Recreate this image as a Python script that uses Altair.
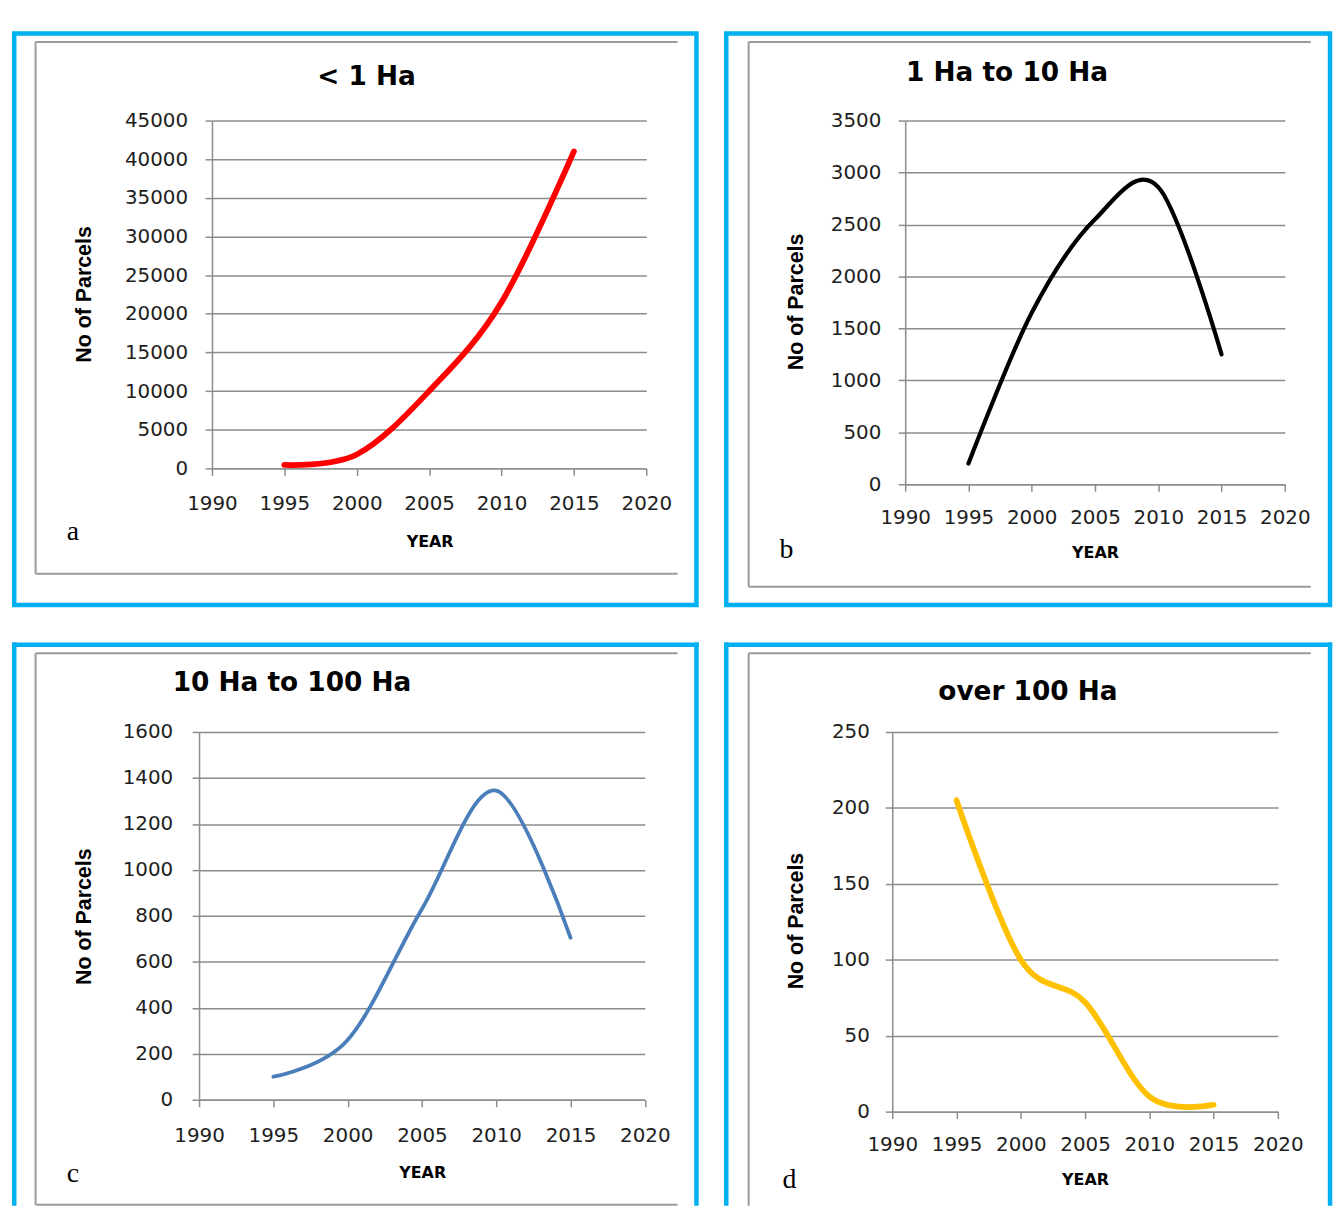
import altair as alt
import pandas as pd

# ---------------- data ----------------
YEARS = [1995, 2000, 2005, 2010, 2015]
LT_1HA = [450, 1800, 10000, 21500, 41000]
HA_1_10 = [200, 1650, 2550, 2860, 1250]
HA_10_100 = [100, 260, 830, 1345, 705]
OVER_100 = [205, 100, 72, 10, 4.5]

TITLES = ["< 1 Ha", "1 Ha to 10 Ha", "10 Ha to 100 Ha", "over 100 Ha"]
LETTERS = ["a", "b", "c", "d"]
X_TITLE = "YEAR"
Y_TITLE = "No of Parcels"

X_TICKS = [1990, 1995, 2000, 2005, 2010, 2015, 2020]
Y_TICKS_A = [0, 5000, 10000, 15000, 20000, 25000, 30000, 35000, 40000, 45000]
Y_TICKS_B = [0, 500, 1000, 1500, 2000, 2500, 3000, 3500]
Y_TICKS_C = [0, 200, 400, 600, 800, 1000, 1200, 1400, 1600]
Y_TICKS_D = [0, 50, 100, 150, 200, 250]

# ---------------- layout / style (page coordinates) ----------------
BLUE = "#00B0F0"
FRAME = "#9b9b9b"
GRID = "#8c8c8c"
BW = 4.5  # blue border width

# ox/oy = group origin shared by the grid column/row; ax = y-axis position
PANELS = [
    dict(series=LT_1HA, yticks=Y_TICKS_A, color="#FF0000", lw=5.8,
         ox=197.5, oy=119, ax=210.5, right=647.5, h=350,
         box=(11.5, 31.5, 698, 606.5), open_bottom=False, frame=(33, 40, 679, 575),
         title_xy=(366, 75), letter_xy=(70.5, 541), ytitle_xy=(82.6, 293.5),
         xtitle_xy=(429.5, 542.5), xlab_pad=28.5, ylab_pad=17.5),
    dict(series=HA_1_10, yticks=Y_TICKS_B, color="#000000", lw=4.2,
         ox=891, oy=119, ax=904, right=1286, h=366,
         box=(724, 31.5, 1331.5, 606.5), open_bottom=False, frame=(746.5, 40, 1312, 588),
         title_xy=(1006.5, 71), letter_xy=(784.5, 559.5), ytitle_xy=(795, 301),
         xtitle_xy=(1095, 554), xlab_pad=26.5, ylab_pad=17.5),
    dict(series=HA_10_100, yticks=Y_TICKS_C, color="#4A7EBB", lw=3.8,
         ox=197.5, oy=731.25, ax=197.5, right=646, h=370,
         box=(11.5, 643.5, 698, 1208), open_bottom=True, frame=(33, 652, 679, 1207),
         title_xy=(291, 682), letter_xy=(70.5, 1184.5), ytitle_xy=(82.6, 916.6),
         xtitle_xy=(422, 1175), xlab_pad=29.5, ylab_pad=19.5),
    dict(series=OVER_100, yticks=Y_TICKS_D, color="#FFC000", lw=5.8,
         ox=891, oy=731.25, ax=891, right=1279, h=382,
         box=(724, 643.5, 1331.5, 1208), open_bottom=True, frame=(746.5, 652, 1312, 1208),
         title_xy=(1027.5, 691), letter_xy=(787.5, 1190), ytitle_xy=(795, 921),
         xtitle_xy=(1085, 1182), xlab_pad=26.3, ylab_pad=16),
]

ONE = alt.Data(values=[{"k": 0}])


def hrule(x1, x2, y, color, sw):
    return alt.Chart(ONE).mark_rule(color=color, strokeWidth=sw).encode(
        x=alt.value(x1), x2=alt.value(x2), y=alt.value(y))


def vrule(x, y1, y2, color, sw):
    return alt.Chart(ONE).mark_rule(color=color, strokeWidth=sw).encode(
        x=alt.value(x), y=alt.value(y1), y2=alt.value(y2))


def panel(i):
    p = PANELS[i]
    ox, oy, h = p["ox"], p["oy"], p["h"]
    x0 = p["ax"] - ox            # where 1990 sits inside the group
    w = p["right"] - ox          # group width
    df = pd.DataFrame({"YEAR": YEARS, "value": p["series"]})

    layers = []
    bx1, by1, bx2, by2 = p["box"]
    if p["open_bottom"]:
        layers += [
            hrule(bx1 - ox - BW / 2, bx2 - ox + BW / 2, by1 - oy, BLUE, BW),
            vrule(bx1 - ox, by1 - oy - BW / 2, by2 - oy, BLUE, BW),
            vrule(bx2 - ox, by1 - oy - BW / 2, by2 - oy, BLUE, BW),
        ]
    else:
        layers.append(alt.Chart(ONE).mark_rect(fillOpacity=0, stroke=BLUE, strokeWidth=BW).encode(
            x=alt.value(bx1 - ox), x2=alt.value(bx2 - ox),
            y=alt.value(by1 - oy), y2=alt.value(by2 - oy)))

    fx1, fy1, fx2, fy2 = p["frame"]
    layers += [
        vrule(fx1 - ox, fy1 - oy, fy2 - oy, FRAME, 2),
        hrule(fx1 - ox, fx2 - ox, fy1 - oy, FRAME, 2),
    ]
    if not p["open_bottom"] or i == 2:
        layers.append(hrule(fx1 - ox, fx2 - ox, fy2 - oy, FRAME, 2))

    ymax = p["yticks"][-1]
    line = alt.Chart(df).mark_line(
        interpolate="cardinal", color=p["color"], strokeWidth=p["lw"],
        strokeCap="round", strokeJoin="round").encode(
        x=alt.X("YEAR:Q",
                scale=alt.Scale(domain=[X_TICKS[0], X_TICKS[-1]], nice=False, zero=False,
                                range=[x0, w]),
                axis=alt.Axis(values=X_TICKS, format="d", grid=False,
                              labelFlush=False, labelOverlap=False,
                              title=X_TITLE, titleX=p["xtitle_xy"][0] - ox,
                              titleY=p["xtitle_xy"][1] - (oy + h),
                              titleAlign="center", titleBaseline="middle",
                              titleFont="DejaVu Sans", titleFontSize=16,
                              titleFontWeight="bold",
                              labelBaseline="middle", labelPadding=p["xlab_pad"])),
        y=alt.Y("value:Q",
                scale=alt.Scale(domain=[0, ymax], nice=False),
                axis=alt.Axis(values=p["yticks"], format="d", grid=True,
                              offset=-x0, labelOverlap=False, labelFlush=False,
                              title=Y_TITLE, titleX=p["ytitle_xy"][0] - p["ax"],
                              titleY=p["ytitle_xy"][1] - oy, titleAngle=270,
                              titleAlign="center", titleBaseline="middle",
                              titleFont="Liberation Sans", titleFontSize=21.5,
                              titleFontWeight="bold",
                              labelPadding=p["ylab_pad"])),
    )
    layers.append(line)

    layers.append(alt.Chart(alt.Data(values=[{"t": TITLES[i]}])).mark_text(
        font="DejaVu Sans", fontWeight="bold", fontSize=26.5, color="#000000",
        align="center", baseline="middle").encode(
        text="t:N", x=alt.value(p["title_xy"][0] - ox), y=alt.value(p["title_xy"][1] - oy)))

    layers.append(alt.Chart(alt.Data(values=[{"t": LETTERS[i]}])).mark_text(
        font="Liberation Serif", fontSize=28, color="#000000",
        align="center", baseline="alphabetic").encode(
        text="t:N", x=alt.value(p["letter_xy"][0] - ox), y=alt.value(p["letter_xy"][1] - oy)))

    return alt.layer(*layers).properties(width=w, height=h)


chart = alt.concat(
    panel(0), panel(1), panel(2), panel(3),
    columns=2, spacing={"row": 32.25, "column": 20.5},
).properties(
    padding={"left": 1.25, "top": 19.5, "right": 0, "bottom": 0},
    background="white",
).configure_view(
    strokeWidth=0,
).configure_axis(
    domainColor=GRID, domainWidth=1.5,
    gridColor=GRID, gridWidth=1.5, gridOpacity=1,
    tickColor=GRID, tickWidth=1.5, tickSize=7,
    labelFont="DejaVu Sans", labelFontSize=20, labelColor="#1e1e1e",
    titleColor="#000000",
)

chart.save("out.html", embed_options={"renderer": "svg", "actions": False})
